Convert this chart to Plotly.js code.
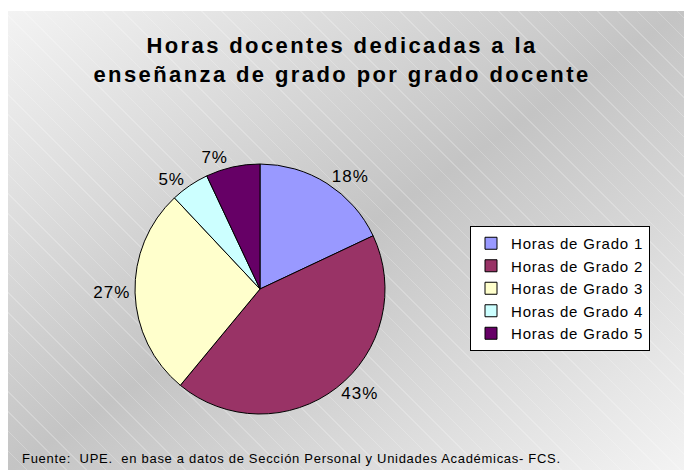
<!DOCTYPE html>
<html>
<head>
<meta charset="utf-8">
<script src="https://cdn.plot.ly/plotly-3.0.1.min.js"></script>
<style>
  html, body { margin: 0; padding: 0; background: #ffffff; }
  #wrap { position: relative; width: 684px; height: 470px; overflow: hidden; }
  #bg {
    position: absolute; left: 8px; top: 11px; right: 0; bottom: 0;
    background:
      repeating-linear-gradient(45deg, rgba(255,255,255,0) 0px, rgba(255,255,255,0) 13px, rgba(255,255,255,0.22) 13px, rgba(255,255,255,0.22) 14px),
      linear-gradient(to bottom right, #f3f3f3 0%, #c4c4c4 50%, #f3f3f3 100%);
  }
  #chart { position: absolute; left: 0; top: 0; width: 684px; height: 470px; }
  .gtitle { letter-spacing: 2.4px; }
  .legendtext { letter-spacing: 0.8px; }
  .slicetext { letter-spacing: 1px; }
  .annotation-text { letter-spacing: 0.7px; }
</style>
</head>
<body>
<div id="wrap">
  <div id="bg"></div>
  <div id="chart"></div>
</div>
<script>
const categories = ["Horas de Grado 1", "Horas de Grado 2", "Horas de Grado 3", "Horas de Grado 4", "Horas de Grado 5"];
const values = [18, 43, 27, 5, 7];
const colors = ["#9999FF", "#993366", "#FFFFCC", "#CCFFFF", "#660066"];
const titleText = "Horas docentes dedicadas a la<br>enseñanza de grado por grado docente";
const sourceText = "Fuente:  UPE.  en base a datos de Sección Personal y Unidades Académicas- FCS.";

const W = 684, H = 470;

const trace = {
  type: "pie",
  labels: categories,
  values: values,
  sort: false,
  direction: "clockwise",
  rotation: 0,
  marker: { colors: colors, line: { color: "#000000", width: 1 } },
  textinfo: "percent",
  texttemplate: "%{percent:.0%}",
  textposition: "outside",
  outsidetextfont: { family: "Liberation Sans, Arial, sans-serif", size: 17, color: "#000000" },
  hoverinfo: "none",
  domain: { x: [135 / W, 385 / W], y: [1 - 414 / H, 1 - 164 / H] },
  showlegend: true
};

const layout = {
  width: W,
  height: H,
  margin: { l: 0, r: 0, t: 0, b: 0 },
  paper_bgcolor: "rgba(0,0,0,0)",
  plot_bgcolor: "rgba(0,0,0,0)",
  font: { family: "Liberation Sans, Arial, sans-serif", color: "#000000" },
  title: {
    text: titleText,
    font: { family: "Liberation Sans, Arial, sans-serif", size: 22, color: "#000000", weight: "bold" },
    x: 0.5, xanchor: "center",
    y: 1 - 53 / H, yanchor: "middle"
  },
  legend: {
    x: 470 / W, xanchor: "left",
    y: 1 - 226 / H, yanchor: "top",
    bgcolor: "#ffffff",
    bordercolor: "#000000",
    borderwidth: 1,
    font: { family: "Liberation Sans, Arial, sans-serif", size: 15, color: "#000000" },
    itemwidth: 30,
    tracegroupgap: 0
  },
  annotations: [{
    text: sourceText,
    xref: "paper", yref: "paper",
    x: 20 / W, xanchor: "left",
    y: 1 - 458 / H, yanchor: "middle",
    showarrow: false,
    font: { family: "Liberation Sans, Arial, sans-serif", size: 13, color: "#000000" }
  }]
};

Plotly.newPlot("chart", [trace], layout, { displayModeBar: false, staticPlot: true });
</script>
</body>
</html>
